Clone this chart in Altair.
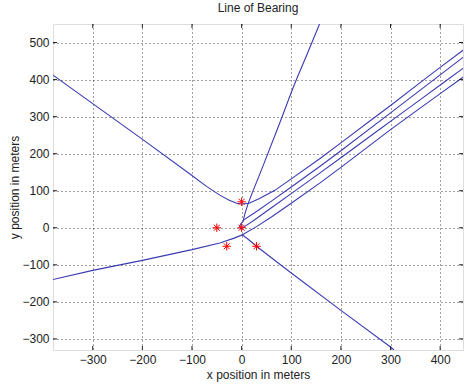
import altair as alt
import pandas as pd

# ---- data ----
x_ticks = [-300, -200, -100, 0, 100, 200, 300, 400]
y_ticks = [-300, -200, -100, 0, 100, 200, 300, 400, 500]

sensor_x = [0, -50, 0, -30, 30]
sensor_y = [70, 0, 0, -50, -50]

curveA_x = [-381, -300, -201, -100, -70, -44, -25, -10, 0, 15, 35, 67, 100, 158, 200, 265, 300, 361, 400, 449]
curveA_y = [413, 335, 240, 141, 111, 88, 74, 66, 64, 66, 78, 101, 132, 187, 229, 295, 330, 393, 433, 482]

curveB_x = [157, 134, 110, 100, 76, 42, 24, 13, 6, 3, -2, -4, -2, 2]
curveB_y = [550, 475, 399, 365, 280, 163, 103, 65, 35, 17, 10, 3, -3, -1]

line2_x = [3, 30, 60, 100, 158, 200, 300, 381, 449]
line2_y = [20, 44, 72, 110, 166, 208, 310, 393, 463]

line3_x = [2, 6, 30, 60, 100, 158, 200, 274, 313, 360, 407, 449]
line3_y = [-1, 3, 25, 54, 92, 148, 189, 262, 300, 346, 392, 433]

line4_x = [0, 30, 60, 100, 158, 200, 300, 336, 400, 449]
line4_y = [-20, 3, 29, 66, 121, 163, 265, 300, 362, 409]

curveCD_x = [-381, -300, -200, -100, -44, -15, 0, 2, 15, 30, 60, 100, 200, 300, 307]
curveCD_y = [-140, -115, -88, -59, -41, -28, -20, -20, -33, -50, -81, -122, -223, -322, -330]

X_DOMAIN = [-380, 446]
Y_DOMAIN = [-330, 550]
W, H = 410, 326

# ---- build tables ----
rows = []
for name, xs, ys in [("A", curveA_x, curveA_y), ("B", curveB_x, curveB_y),
                     ("L2", line2_x, line2_y), ("L3", line3_x, line3_y),
                     ("L4", line4_x, line4_y), ("CD", curveCD_x, curveCD_y)]:
    for i, (xv, yv) in enumerate(zip(xs, ys)):
        rows.append({"series": name, "i": i, "x": xv, "y": yv})
curves = pd.DataFrame(rows)
sensors = pd.DataFrame({"x": sensor_x, "y": sensor_y})
xt = pd.DataFrame({"v": x_ticks})
yt = pd.DataFrame({"v": y_ticks})

FONT = "Liberation Sans"
xscale = alt.Scale(domain=X_DOMAIN, nice=False, zero=False)
yscale = alt.Scale(domain=Y_DOMAIN, nice=False, zero=False)

xaxis = alt.Axis(values=x_ticks, grid=True, gridColor="#000000", gridDash=[1, 3],
                 gridOpacity=0.75, ticks=False, domain=False, labelFont=FONT,
                 labelFontSize=12, labelColor="#222222", labelPadding=4,
                 title="x position in meters", titleFont=FONT, titleFontSize=12,
                 titleFontWeight="normal", titleColor="#222222", titlePadding=4,
                 labelFlush=False)
yaxis = alt.Axis(values=y_ticks, grid=True, gridColor="#000000", gridDash=[1, 3],
                 gridOpacity=0.75, ticks=False, domain=False, labelFont=FONT,
                 labelFontSize=12, labelColor="#222222", labelPadding=4,
                 title="y position in meters", titleFont=FONT, titleFontSize=12,
                 titleFontWeight="normal", titleColor="#222222", titlePadding=0,
                 labelFlush=False)

lines = alt.Chart(curves).mark_line(color="#3a3ab2", strokeWidth=1.1, clip=True).encode(
    x=alt.X("x:Q", scale=xscale, axis=xaxis),
    y=alt.Y("y:Q", scale=yscale, axis=yaxis),
    detail="series:N",
    order="i:Q",
)

star_path = "M-1,0L1,0M0,-1L0,1M-0.7,-0.7L0.7,0.7M-0.7,0.7L0.7,-0.7"
stars = alt.Chart(sensors).mark_point(shape=star_path, size=72, filled=False,
                                      color="#ff0000", strokeWidth=1.0, opacity=1).encode(
    x=alt.X("x:Q", scale=xscale),
    y=alt.Y("y:Q", scale=yscale),
)

tick_color = "#222222"
tb = alt.Chart(xt).mark_rule(color=tick_color).encode(x=alt.X("v:Q", scale=xscale),
                                                      y=alt.value(H), y2=alt.value(H - 4))
tt = alt.Chart(xt).mark_rule(color=tick_color).encode(x=alt.X("v:Q", scale=xscale),
                                                      y=alt.value(0), y2=alt.value(4))
tl = alt.Chart(yt).mark_rule(color=tick_color).encode(y=alt.Y("v:Q", scale=yscale),
                                                      x=alt.value(0), x2=alt.value(4))
tr = alt.Chart(yt).mark_rule(color=tick_color).encode(y=alt.Y("v:Q", scale=yscale),
                                                      x=alt.value(W), x2=alt.value(W - 4))

chart = alt.layer(lines, stars, tb, tt, tl, tr).properties(
    width=W, height=H,
    title=alt.TitleParams("Line of Bearing", font=FONT, fontSize=12, fontWeight="normal",
                          color="#222222", anchor="middle", offset=9),
    autosize=alt.AutoSizeParams(type="none"),
    padding={"left": 53, "top": 24, "right": 1, "bottom": 37},
).configure_view(stroke="#333333", strokeWidth=1).configure(background="white")

chart.save("out.html", embed_options={"renderer": "svg", "actions": False})
